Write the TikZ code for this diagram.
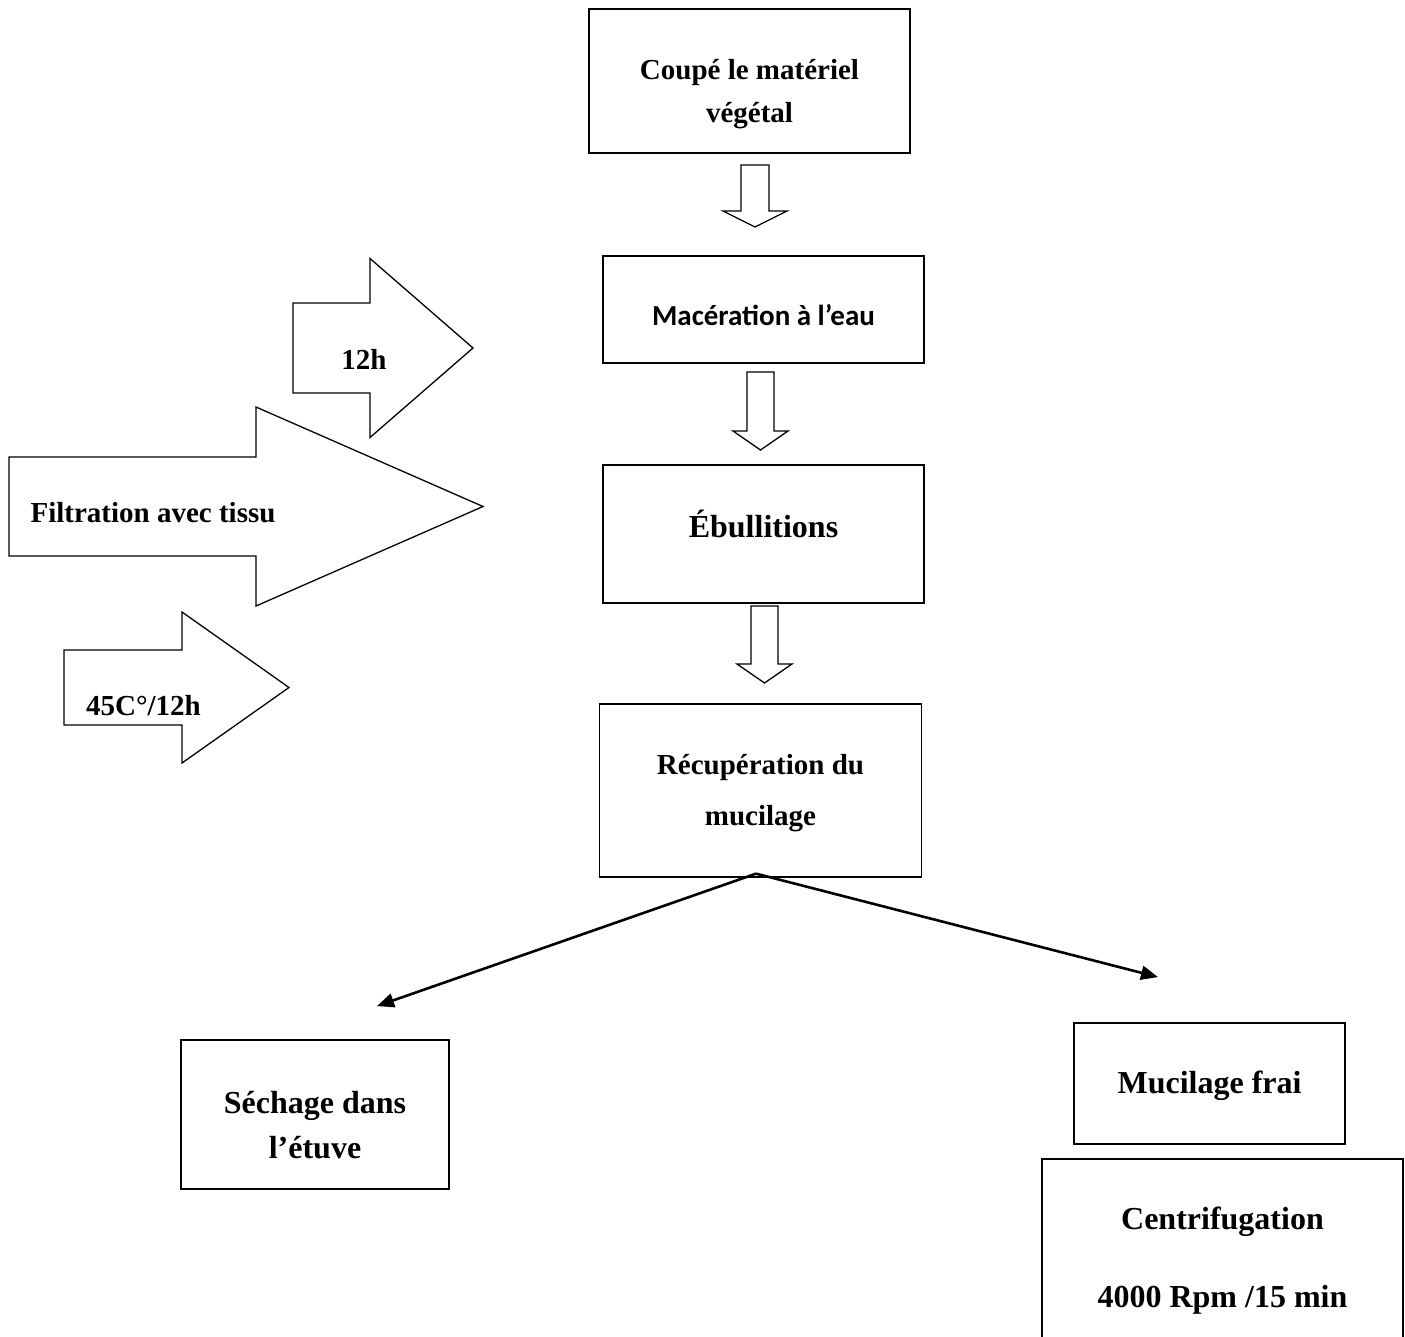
\documentclass[tikz,border=0pt]{standalone}
\usepackage{fontspec}
\setmainfont{Liberation Serif}
\newfontfamily\calibri{Carlito}
\usetikzlibrary{positioning,arrows.meta}

% hollow block arrows: x, top, neck, tip, shaft half, head half
\newcommand{\hollowdown}[6]{%
  \draw[blockarrow] (#1-#5,#2) -- (#1+#5,#2) -- (#1+#5,#3) -- (#1+#6,#3)
    -- (#1,#4) -- (#1-#6,#3) -- (#1-#5,#3) -- cycle;}
% y, left, shaft half, neck, head half, tip
\newcommand{\hollowright}[6]{%
  \draw[blockarrow] (#2,#1-#3) -- (#4,#1-#3) -- (#4,#1-#5) -- (#6,#1)
    -- (#4,#1+#5) -- (#4,#1+#3) -- (#2,#1+#3) -- cycle;}

\tikzset{
  stage/.style={draw, line width=1.9pt, inner sep=0pt, align=center},
  blockarrow/.style={draw, line width=1.3pt, line join=miter},
  split/.style={-{Triangle[length=17pt,width=14pt]}, line width=2.6pt},
  lbl/.style={inner sep=0pt, anchor=base, font=\bfseries\fontsize{29}{35}\selectfont},
}

\begin{document}
\begin{tikzpicture}[x=1pt, y=-1pt]
  \clip (0,0) rectangle (1405,1336);

  \node[stage, minimum width=321pt, minimum height=144pt, text height=82pt, text depth=0pt,
        font=\bfseries\fontsize{29}{43}\selectfont] (coupe) at (749.5,81) {Coupé le matériel\\végétal};
  \node[stage, minimum width=321pt, minimum height=107pt, text height=33pt, text depth=0pt,
        font=\calibri\bfseries\fontsize{29}{35}\selectfont,
        below = 101pt of coupe, xshift=14pt] (macer) {Macération à l’eau};
  \node[stage, minimum width=321pt, minimum height=138pt, text height=18pt, text depth=10pt,
        font=\bfseries\fontsize{32}{38}\selectfont,
        below = 100pt of macer] (ebul) {Ébullitions};
  \node[stage, minimum width=322pt, minimum height=173pt, text height=71pt, text depth=0pt,
        font=\bfseries\fontsize{29}{51}\selectfont,
        below = 99pt of ebul, xshift=-3pt] (recup) {Récupération du\\mucilage};
  \node[stage, minimum width=268pt, minimum height=149pt, text height=87pt, text depth=0pt,
        font=\bfseries\fontsize{32}{45}\selectfont] (sechage) at (315,1114.5) {Séchage dans\\l’étuve};
  \node[stage, minimum width=271pt, minimum height=121pt, text height=25pt, text depth=6pt,
        font=\bfseries\fontsize{32}{38}\selectfont] (frai) at (1209.5,1083.5) {Mucilage frai};
  \node[stage, minimum width=361pt, minimum height=198pt, text height=100pt, text depth=0pt,
        font=\bfseries\fontsize{32}{78}\selectfont,
        below = 13pt of frai, xshift=13pt] (centri) {Centrifugation\\4000 Rpm /15 min};

  \hollowdown{755}{165}{211}{227}{14}{32}
  \hollowdown{760.5}{372}{431}{450}{13.5}{27.5}
  \hollowdown{764.5}{606}{664}{683}{13.5}{27.5}

  \hollowright{348}{293}{45}{370}{89.5}{473}
  \hollowright{506.5}{9}{49.5}{256}{99.5}{483}
  \hollowright{687.5}{64}{37.5}{182}{75.5}{289}

  \node[lbl] (douze) at (364,369) {12h};
  \node[lbl] (filtre) at (153,522) {Filtration avec tissu};
  \node[lbl] (etuve) at (143.5,715) {45C°/12h};

  \coordinate (fork) at ([xshift=-4.5pt, yshift=4pt]recup.south);
  \coordinate (sechtip) at ([xshift=62pt, yshift=33pt]sechage.north);
  \coordinate (fraitip) at ([xshift=-51.5pt, yshift=45pt]frai.north);
  \draw[split] (fork) -- (sechtip);
  \draw[split] (fork) -- (fraitip);
\end{tikzpicture}
\end{document}
